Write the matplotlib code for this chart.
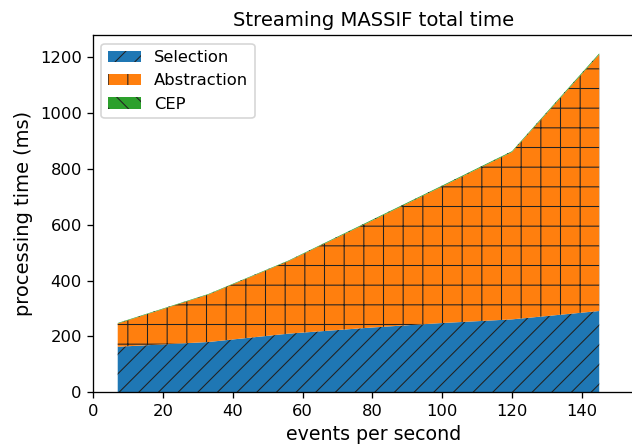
import matplotlib
matplotlib.use('Agg')
import matplotlib.pyplot as plt
import numpy as np

# Data
rate = [7, 33, 56, 80, 100, 120, 145]
selection = [163, 180, 210, 232, 248, 261, 291]
total = [248, 352, 472, 618, 740, 863, 1213]
cep = [2, 2, 2, 3, 3, 3, 4]
abstraction = [t - s - c for t, s, c in zip(total, selection, cep)]

labels = ['Selection', 'Abstraction', 'CEP']
hatches = ['//', '+', '\\\\']

plt.rcParams['hatch.linewidth'] = 0.65
plt.rcParams['hatch.color'] = '#222222'

DPI = 118
fig = plt.figure(figsize=(632 / DPI, 445 / DPI), dpi=DPI)
ax = fig.add_axes([93.3 / 632, 52.7 / 445, 560 / 632, 356.8 / 445])

polys = ax.stackplot(rate, selection, abstraction, cep, labels=labels)
for p, h in zip(polys, hatches):
    p.set_hatch(h)

ax.set_xlim(0, 160.5)
ax.set_ylim(0, 1277)
ax.set_xticks(np.arange(0, 141, 20))
ax.set_yticks(np.arange(0, 1201, 200))
ax.tick_params(labelsize=10)

ax.set_title('Streaming MASSIF total time', fontsize=12)
ax.set_xlabel('events per second', fontsize=11.6)
ax.set_ylabel('processing time (ms)', fontsize=11.8)
ax.legend(loc='upper left', fontsize=10)

fig.savefig('out.png', dpi=DPI)
